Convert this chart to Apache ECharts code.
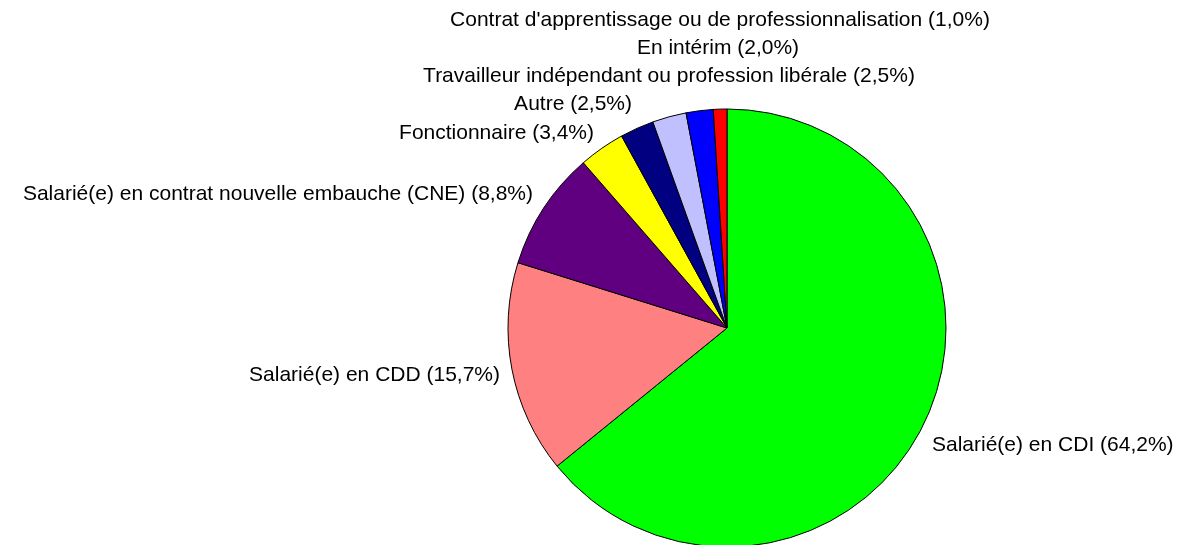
<!DOCTYPE html>
<html>
<head>
<meta charset="utf-8">
<script src="https://cdn.jsdelivr.net/npm/echarts@6/dist/echarts.min.js"></script>
<style>
  html, body { margin: 0; padding: 0; background: #fff; }
  #chart { width: 1177px; height: 545px; }
</style>
</head>
<body>
<div id="chart"></div>
<script>
// statut des répondants
const categories = [
  'Salarié(e) en CDI',
  'Salarié(e) en CDD',
  'Salarié(e) en contrat nouvelle embauche (CNE)',
  'Fonctionnaire',
  'Autre',
  'Travailleur indépendant ou profession libérale',
  'En intérim',
  "Contrat d'apprentissage ou de professionnalisation"
]
const percents = [64.2, 15.7, 8.8, 3.4, 2.5, 2.5, 2.0, 1.0]
const colors = ['#00ff00', '#ff8080', '#600080', '#ffff00', '#000080', '#c0c0ff', '#0000ff', '#ff0000']

// placement des étiquettes (façon Excel) : x, y du milieu, alignement
const labelAnchors = [
  [932, 445, 'left'],
  [500, 375, 'right'],
  [533, 194, 'right'],
  [594, 133, 'right'],
  [632, 104, 'right'],
  [669, 76, 'center'],
  [718, 48, 'center'],
  [720, 20, 'center']
]

const chart = echarts.init(document.getElementById('chart'), null, { renderer: 'canvas' })

const data = categories.map((name, i) => ({
  name: name,
  value: percents[i],
  itemStyle: { color: colors[i] }
}))

chart.setOption({
  animation: false,
  backgroundColor: '#fff',
  series: [{
    type: 'pie',
    center: [727, 328],
    radius: 219,
    startAngle: 90,
    clockwise: true,
    avoidLabelOverlap: false,
    itemStyle: { borderColor: '#000', borderWidth: 1 },
    label: {
      show: true,
      position: 'outside',
      overflow: 'none',
      fontFamily: 'Liberation Sans, Arial, sans-serif',
      fontSize: 21,
      color: '#000',
      formatter: p => p.name + ' (' + p.value.toFixed(1).replace('.', ',') + '%)'
    },
    labelLine: { show: false },
    labelLayout: params => {
      const a = labelAnchors[params.dataIndex]
      return { x: a[0], y: a[1], align: a[2], verticalAlign: 'middle' }
    },
    emphasis: { disabled: true },
    data: data
  }]
})
</script>
</body>
</html>
